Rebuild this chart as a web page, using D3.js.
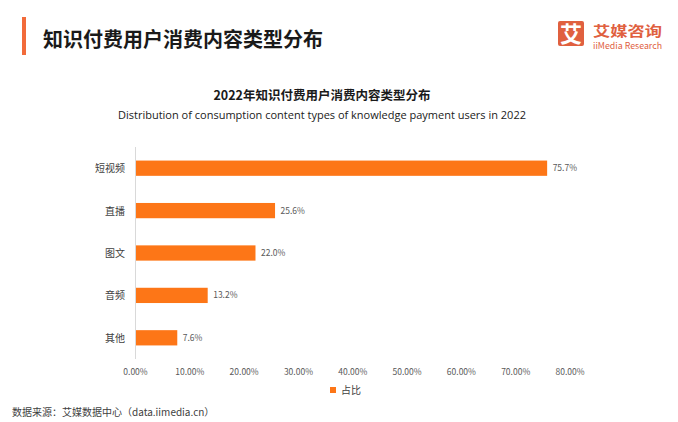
<!DOCTYPE html>
<html><head><meta charset="utf-8">
<script src="https://cdn.jsdelivr.net/npm/d3@7"></script>
<style>
body{margin:0;background:#fff;}
svg{display:block;font-family:"Noto Sans CJK SC","Noto Sans",sans-serif;}
</style></head>
<body><svg id="c" width="678" height="422"></svg>
<script>
const categories = ["短视频","直播","图文","音频","其他"];
const values = [75.7,25.6,22.0,13.2,7.6];
const ticks = [0,10,20,30,40,50,60,70,80];
const seriesName = "占比";

const svg = d3.select("#c");
// Header
svg.append("rect").attr("x",22).attr("y",17).attr("width",4).attr("height",38).attr("fill","#F26B3A");
svg.append("text").attr("x",43).attr("y",47).attr("font-size",20).attr("font-weight","bold").attr("fill","#1a1a1a").text("知识付费用户消费内容类型分布");
// Logo
svg.append("rect").attr("x",558).attr("y",21).attr("width",26).attr("height",25).attr("rx",2).attr("fill","#E0603F");
svg.append("text").attr("x",571).attr("y",42).attr("text-anchor","middle").attr("font-size",22).attr("font-weight","bold").attr("fill","#fff").text("艾");
svg.append("text").attr("x",593).attr("y",36).attr("font-size",14).attr("font-weight","bold").attr("fill","#E0603F")
 .attr("textLength",69).attr("lengthAdjust","spacingAndGlyphs").text("艾媒咨询");
svg.append("text").attr("x",593).attr("y",48.5).attr("font-size",9).attr("fill","#E0603F")
 .attr("textLength",69).attr("lengthAdjust","spacingAndGlyphs").text("iiMedia Research");

// Chart titles
svg.append("text").attr("x",322).attr("y",100).attr("text-anchor","middle").attr("font-size",12.5).attr("font-weight","bold").attr("fill","#1a1a1a").text("2022年知识付费用户消费内容类型分布");
svg.append("text").attr("x",322).attr("y",119).attr("text-anchor","middle").attr("font-size",11).attr("fill","#1a1a1a").attr("font-family","'Open Sans','Noto Sans',sans-serif").text("Distribution of consumption content types of knowledge payment users in 2022");

const x = d3.scaleLinear().domain([0,80]).range([135.5,570]);
const y = d3.scaleBand().domain(categories).range([147,359]).paddingInner(0.64).paddingOuter(0.32);

svg.append("line").attr("x1",x(0)).attr("x2",x(0)).attr("y1",147).attr("y2",359).attr("stroke","#d9d9d9").attr("stroke-width",1);

svg.selectAll(".bar").data(values).enter().append("rect")
 .attr("x",x(0)+0.5).attr("y",(d,i)=>y(categories[i])).attr("width",d=>x(d)-x(0)).attr("height",y.bandwidth()).attr("fill","#FD7617");

svg.selectAll(".val").data(values).enter().append("text")
 .attr("x",d=>x(d)+6).attr("y",(d,i)=>y(categories[i])+y.bandwidth()/2+3).attr("font-size",8.5).attr("fill","#595959")
 .text(d=>d.toFixed(1)+"%");

svg.selectAll(".cat").data(categories).enter().append("text")
 .attr("x",125).attr("y",d=>y(d)+y.bandwidth()/2+4).attr("text-anchor","end").attr("font-size",10).attr("fill","#404040").text(d=>d);

svg.selectAll(".tick").data(ticks).enter().append("text")
 .attr("x",d=>x(d)).attr("y",375).attr("text-anchor","middle").attr("font-size",8.5).attr("fill","#595959").text(d=>d.toFixed(2)+"%");

// Legend
svg.append("rect").attr("x",330).attr("y",387).attr("width",6).attr("height",6).attr("fill","#FD7617");
svg.append("text").attr("x",341).attr("y",394).attr("font-size",10).attr("fill","#404040").text(seriesName);

// Footer
svg.append("text").attr("x",12).attr("y",416).attr("font-size",10).attr("fill","#404040").text("数据来源：艾媒数据中心（data.iimedia.cn）");
</script></body></html>
